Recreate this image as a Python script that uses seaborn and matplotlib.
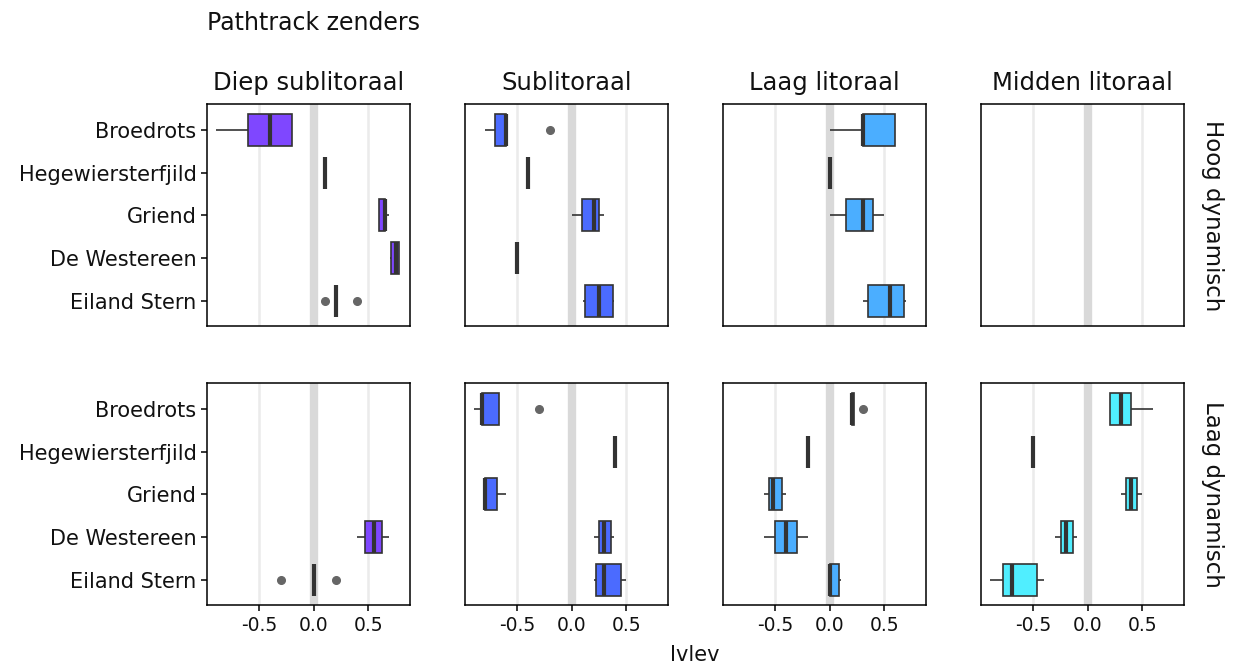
import matplotlib
matplotlib.use("Agg")
import matplotlib.pyplot as plt
import seaborn as sns
import pandas as pd

sites = ["Broedrots", "Hegewiersterfjild", "Griend", "De Westereen", "Eiland Stern"]
zones = ["Diep sublitoraal", "Sublitoraal", "Laag litoraal", "Midden litoraal"]
dynamics = ["Hoog dynamisch", "Laag dynamisch"]
zone_colors = ["#7F47FF", "#4B6BFF", "#4BAEFF", "#50EEFF"]

# Ivlev values per site (same order as sites)
hoog_diep = [[-0.9, -0.6, -0.4, -0.2, -0.2],
             [0.1, 0.1, 0.1],
             [0.6, 0.6, 0.65, 0.65, 0.69],
             [0.7, 0.71, 0.75, 0.78, 0.78],
             [0.1, 0.2, 0.2, 0.2, 0.4]]
hoog_sub = [[-0.8, -0.7, -0.7, -0.6, -0.6, -0.6, -0.6, -0.2],
            [-0.4, -0.4, -0.4],
            [0.0, 0.09, 0.2, 0.25, 0.3],
            [-0.5, -0.5, -0.5],
            [0.1, 0.12, 0.25, 0.38, 0.39]]
hoog_laag = [[0.0, 0.3, 0.3, 0.6, 0.6],
             [0.0, 0.0, 0.0],
             [0.0, 0.15, 0.3, 0.4, 0.5],
             [],
             [0.3, 0.35, 0.55, 0.68, 0.7]]
hoog_midden = [[], [], [], [], []]

laag_diep = [[], [], [],
             [0.4, 0.47, 0.55, 0.63, 0.69],
             [-0.3, 0.0, 0.0, 0.0, 0.2]]
laag_sub = [[-0.9, -0.82, -0.82, -0.67, -0.3],
            [0.4, 0.4, 0.4],
            [-0.81, -0.8, -0.8, -0.69, -0.6],
            [0.2, 0.25, 0.3, 0.36, 0.39],
            [0.2, 0.22, 0.3, 0.45, 0.5]]
laag_laag = [[0.2, 0.2, 0.2, 0.3],
             [-0.2, -0.2, -0.2],
             [-0.6, -0.56, -0.52, -0.44, -0.4],
             [-0.6, -0.5, -0.4, -0.3, -0.2],
             [0.0, 0.0, 0.0, 0.08, 0.1]]
laag_midden = [[0.2, 0.2, 0.3, 0.4, 0.6],
               [-0.5, -0.5, -0.5],
               [0.3, 0.35, 0.4, 0.45, 0.5],
               [-0.3, -0.25, -0.2, -0.14, -0.1],
               [-0.9, -0.78, -0.7, -0.47, -0.4]]

panels = [[hoog_diep, hoog_sub, hoog_laag, hoog_midden],
          [laag_diep, laag_sub, laag_laag, laag_midden]]

sns.set_theme(style="white")
plt.rcParams["font.family"] = ["DejaVu Sans"]

fig, axes = plt.subplots(2, 4, figsize=(12.36, 6.68), dpi=100, sharex=True, sharey=True)
fig.subplots_adjust(left=0.1675, right=0.958, top=0.844, bottom=0.094, wspace=0.271, hspace=0.257)

for r, dyn in enumerate(dynamics):
    for c, zone in enumerate(zones):
        ax = axes[r, c]
        rows = []
        for site, vals in zip(sites, panels[r][c]):
            for v in vals:
                rows.append({"site": site, "ivlev": v})
        df = pd.DataFrame(rows)
        ax.axvline(-0.5, color="#EBEBEB", lw=1.8, zorder=0)
        ax.axvline(0.5, color="#EBEBEB", lw=1.8, zorder=0)
        ax.axvline(0.0, color="#D9D9D9", lw=6, zorder=0)
        if len(df):
            sns.boxplot(data=df, x="ivlev", y="site", order=sites, color=zone_colors[c],
                        saturation=1, width=0.75, linecolor="#333333", linewidth=1.2,
                        showcaps=False,
                        medianprops={"linewidth": 3, "color": "#333333"},
                        flierprops={"marker": "o", "markersize": 5.5, "markerfacecolor": "#666666",
                                    "markeredgecolor": "#666666"},
                        ax=ax)
        ax.set_xlim(-0.979, 0.883)
        ax.set_ylim(4.6, -0.6)
        ax.set_xticks([-0.5, 0.0, 0.5])
        ax.set_xticklabels(["-0.5", "0.0", "0.5"])
        ax.set_xlabel("")
        ax.set_ylabel("")
        for s in ax.spines.values():
            s.set_color("black")
            s.set_linewidth(1.1)
        ax.tick_params(axis="both", colors="black", labelcolor="#111111", length=4, width=1.1,
                       left=(c == 0), bottom=(r == 1))
        ax.tick_params(axis="x", labelsize=13.5)
        ax.tick_params(axis="y", labelsize=15)
        if r == 0:
            ax.set_title(zone, fontsize=17.5, pad=10, color="#111111")
        if c == 3:
            ax.text(1.14, 0.5, dyn, transform=ax.transAxes, rotation=-90,
                    ha="center", va="center", fontsize=16.5, color="#111111")

axes[0, 0].set_yticks(range(len(sites)))
axes[0, 0].set_yticklabels(sites)
fig.text(0.1675, 0.966, "Pathtrack zenders", fontsize=17, ha="left", va="center", color="#111111")
fig.text(0.5625, 0.02, "Ivlev", fontsize=15, ha="center", va="center", color="#111111")

fig.savefig("out.png", dpi=100)
